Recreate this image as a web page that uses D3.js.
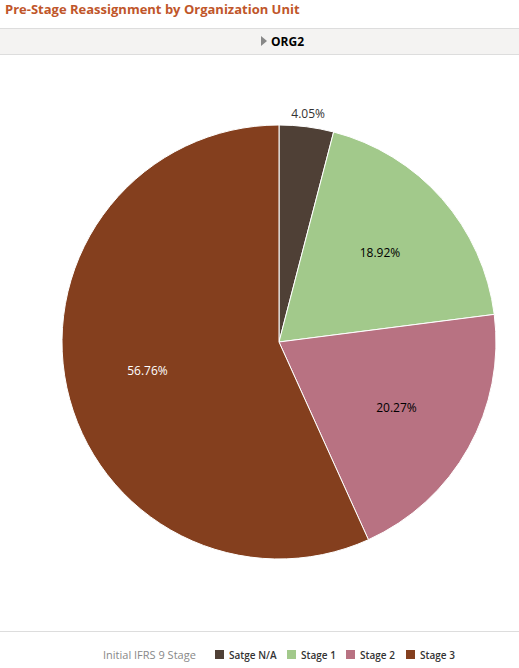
<!DOCTYPE html>
<html><head><meta charset="utf-8">
<script src="https://cdn.jsdelivr.net/npm/d3@7"></script>
<style>body{margin:0;background:#fff;font-family:"Open Sans",sans-serif;}</style>
</head><body>
<svg id="c" width="519" height="668"></svg>
<script>
const categories = ["Satge N/A","Stage 1","Stage 2","Stage 3"];
const values = [4.05, 18.92, 20.27, 56.76];
const colors = ["#4f4036","#a2c98b","#b87282","#843f1e"];
const labelColors = ["#333","#000","#000","#fff"];

const svg = d3.select("#c");
svg.append("text").attr("x",5).attr("y",14).attr("font-size",13).attr("font-weight","bold")
  .attr("fill","#c0562a").text("Pre-Stage Reassignment by Organization Unit");
svg.append("rect").attr("x",0).attr("y",28).attr("width",519).attr("height",27).attr("fill","#f4f3f2");
svg.append("line").attr("x1",0).attr("x2",519).attr("y1",28.5).attr("y2",28.5).attr("stroke","#ddd");
svg.append("line").attr("x1",0).attr("x2",519).attr("y1",54.5).attr("y2",54.5).attr("stroke","#ddd");
svg.append("path").attr("d","M261,36 L267,41 L261,46 Z").attr("fill","#888");
svg.append("text").attr("x",271).attr("y",46).attr("font-size",12).attr("font-weight","bold").attr("fill","#000").text("ORG2");

const cx=279, cy=342, r=217;
const pie = d3.pie().sort(null).value(d=>d)(values);
const arc = d3.arc().innerRadius(0).outerRadius(r);
const g = svg.append("g").attr("transform",`translate(${cx},${cy})`);
g.selectAll("path").data(pie).join("path").attr("d",arc)
  .attr("fill",(d,i)=>colors[i]).attr("stroke","#fff").attr("stroke-width",1);
const inner = d3.arc().innerRadius(r*0.62).outerRadius(r*0.62);
g.selectAll("text.l").data(pie).join("text")
  .attr("transform",(d,i)=> i===0 ? `translate(${d3.arc().innerRadius(r+13).outerRadius(r+13).centroid(d)})` : `translate(${inner.centroid(d)})`)
  .attr("text-anchor","middle").attr("dy","0.35em").attr("font-size",12)
  .attr("fill",(d,i)=>labelColors[i]).text(d=>d.data.toFixed(2)+"%");

svg.append("line").attr("x1",0).attr("x2",519).attr("y1",631.5).attr("y2",631.5).attr("stroke","#ddd");
const ly=655;
svg.append("text").attr("x",103).attr("y",ly+4).attr("font-size",11).attr("fill","#888").text("Initial IFRS 9 Stage");
const lx=[215,287,346,406];
categories.forEach((c,i)=>{
  svg.append("rect").attr("x",lx[i]).attr("y",ly-5).attr("width",9).attr("height",9).attr("fill",colors[i]);
  svg.append("text").attr("x",lx[i]+14).attr("y",ly+4).attr("font-size",10).attr("font-weight","600").attr("fill","#333").text(c);
});
</script>
</body></html>
